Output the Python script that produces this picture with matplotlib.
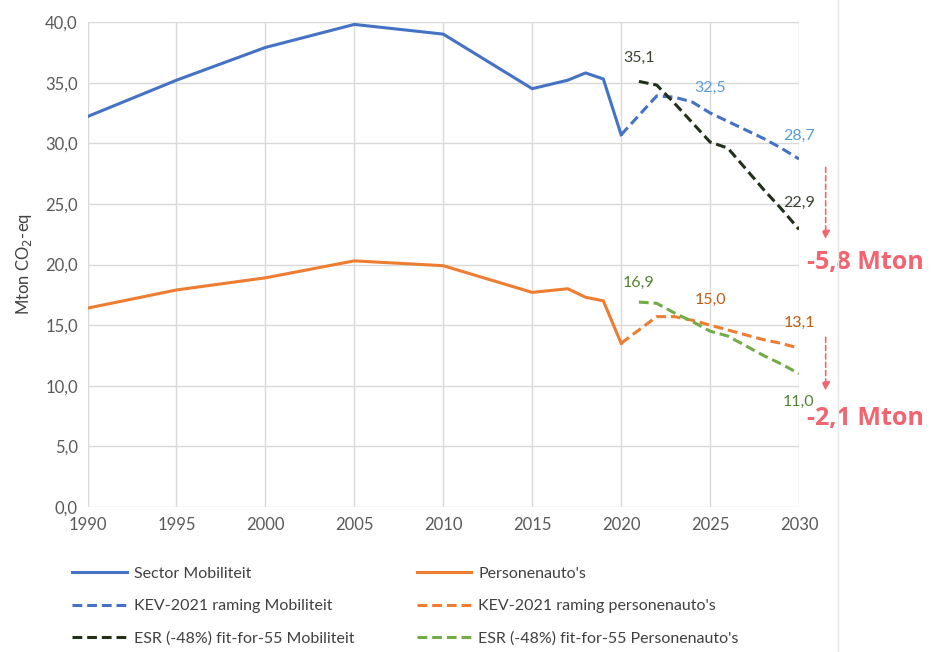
import numpy as np
import matplotlib
matplotlib.use('Agg')
import matplotlib.pyplot as plt
from matplotlib.lines import Line2D
from matplotlib.ticker import FuncFormatter

plt.rcParams['font.family'] = ['Lato', 'DejaVu Sans']

# historical series
hist_years = [1990, 1995, 2000, 2005, 2010, 2015, 2017, 2018, 2019, 2020]
sector_mob = [32.2, 35.2, 37.9, 39.8, 39.0, 34.5, 35.2, 35.8, 35.3, 30.7]
personen = [16.4, 17.9, 18.9, 20.3, 19.9, 17.7, 18.0, 17.3, 17.0, 13.5]

# projections
kev_years = [2020, 2021, 2022, 2023, 2024, 2025, 2026, 2027, 2028, 2029, 2030]
kev_mob = [30.7, 32.3, 33.9, 33.8, 33.4, 32.5, 31.8, 31.1, 30.4, 29.6, 28.7]
kev_pers = [13.5, 14.6, 15.7, 15.7, 15.4, 15.0, 14.6, 14.2, 13.8, 13.5, 13.1]

esr_years = [2021, 2022, 2023, 2024, 2025, 2026, 2027, 2028, 2029, 2030]
esr_mob = [35.1, 34.8, 33.3, 31.7, 30.1, 29.6, 27.9, 26.2, 24.6, 22.9]
esr_pers = [16.9, 16.8, 16.0, 15.3, 14.5, 14.1, 13.3, 12.5, 11.8, 11.0]

reductions = ['-5,8 Mton', '-2,1 Mton']

C_BLUE = '#4472C4'
C_ORANGE = '#ED7D31'
C_DARK = '#22301A'
C_GREEN = '#70AD47'
C_RED = '#F2646F'
DASH = (3.2, 1.6)

fig = plt.figure(figsize=(9.37, 6.52), dpi=100)
ax = fig.add_axes([87.5 / 937, 1 - 507 / 652, (799 - 87.5) / 937, (507 - 22) / 652])

l1, = ax.plot(hist_years, sector_mob, color=C_BLUE, lw=2.2, label='Sector Mobiliteit')
l2, = ax.plot(hist_years, personen, color=C_ORANGE, lw=2.2, label="Personenauto's")
l3, = ax.plot(kev_years, kev_mob, color=C_BLUE, lw=2.2, dashes=DASH, label='KEV-2021 raming Mobiliteit')
l4, = ax.plot(kev_years, kev_pers, color=C_ORANGE, lw=2.2, dashes=DASH, label="KEV-2021 raming personenauto's")
l5, = ax.plot(esr_years, esr_mob, color=C_DARK, lw=2.2, dashes=DASH, label='ESR (-48%) fit-for-55 Mobiliteit')
l6, = ax.plot(esr_years, esr_pers, color=C_GREEN, lw=2.2, dashes=DASH, label="ESR (-48%) fit-for-55 Personenauto's")

ax.set_xlim(1990, 2030)
ax.set_ylim(0, 40)
ax.set_xticks(range(1990, 2031, 5))
ax.set_yticks(range(0, 41, 5))
ax.yaxis.set_major_formatter(FuncFormatter(lambda v, p: f'{v:.1f}'.replace('.', ',')))
ax.grid(True, color='#D9D9D9', lw=1)
ax.set_axisbelow(True)
for s in ax.spines.values():
    s.set_visible(False)
ax.tick_params(length=0, labelsize=12, colors='#595959', pad=7)
ax.set_ylabel('Mton CO$_2$-eq', fontsize=12, color='#404040', labelpad=8)


def fmt(v):
    return f'{v:.1f}'.replace('.', ',')


def label(x, y, color, dy):
    ax.annotate(fmt(y), (x, y), xytext=(0, dy), textcoords='offset points',
                ha='center', va='center', fontsize=11.5, color=color, annotation_clip=False)


label(esr_years[0], esr_mob[0], '#3A4430', 17)
label(kev_years[5], kev_mob[5], '#5B9BD5', 18)
label(kev_years[-1], kev_mob[-1], '#5B9BD5', 17)
label(esr_years[-1], esr_mob[-1], '#3A4430', 19)
label(esr_years[0], esr_pers[0], '#548235', 14)
label(kev_years[5], kev_pers[5], '#C55A11', 18)
label(kev_years[-1], kev_pers[-1], '#C55A11', 18)
label(esr_years[-1], esr_pers[-1], '#548235', -20)

# reduction arrows and labels
for (y0, y1, ty), txt in zip([(28.0, 22.1, 20.2), (14.0, 9.6, 7.3)], reductions):
    ax.annotate('', xy=(2031.5, y1), xytext=(2031.5, y0),
                arrowprops=dict(arrowstyle='-|>', color=C_RED, lw=1.2, ls=(0, (3, 2)),
                                mutation_scale=12, shrinkA=0, shrinkB=0),
                annotation_clip=False)
    ax.text(2030.45, ty, txt, fontsize=18, fontweight='bold', color=C_RED,
            family=['Open Sans', 'DejaVu Sans'],
            ha='left', va='center', clip_on=False)

fig.add_artist(Line2D([838 / 937, 838 / 937], [0, 1], color='#E6E6E6', lw=1))

fig.legend(handles=[l1, l3, l5, l2, l4, l6], ncol=2, frameon=False,
           loc='upper left', bbox_to_anchor=(58 / 937, 1 - 552 / 652),
           fontsize=11.5, labelcolor='#404040', handlelength=3.4, handletextpad=0.45,
           labelspacing=1.15, columnspacing=3.9)

fig.savefig('out.png', dpi=100)
